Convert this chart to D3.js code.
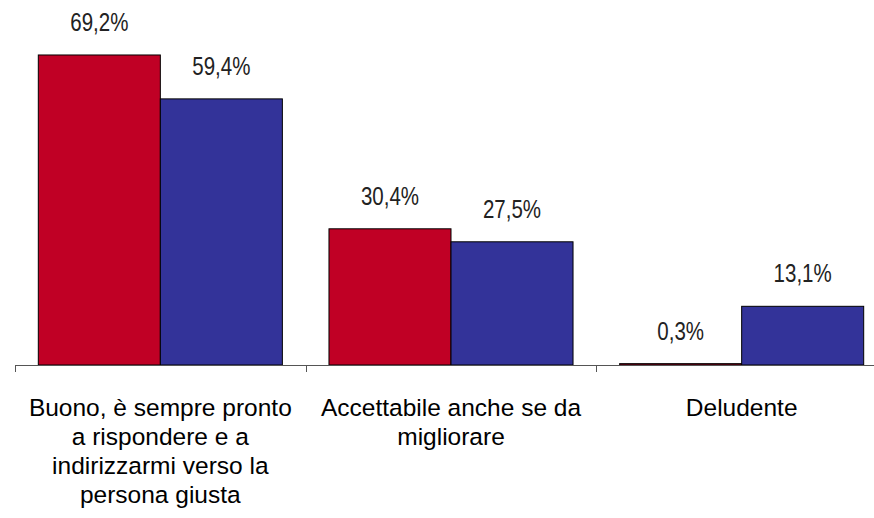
<!DOCTYPE html>
<html>
<head>
<meta charset="utf-8">
<script src="https://cdn.jsdelivr.net/npm/d3@7"></script>
<style>
  html, body { margin: 0; padding: 0; background: #fff; }
  svg { display: block; }
</style>
</head>
<body>
<svg id="chart" width="874" height="518"></svg>
<script>
const categories = [
  "Buono, è sempre pronto a rispondere e a indirizzarmi verso la persona giusta",
  "Accettabile anche se da migliorare",
  "Deludente"
];
const seriesNames = ["Serie A", "Serie B"];
const seriesA = [69.2, 30.4, 0.3];
const seriesB = [59.4, 27.5, 13.1];
const colors = ["#C00025", "#333399"];

const svg = d3.select("#chart");
const baseY = 365;

const x0 = d3.scaleBand().domain(categories).range([15, 887]).paddingInner(0).paddingOuter(0);
const x1 = d3.scaleBand().domain(seriesNames).range([0, x0.bandwidth()]).paddingInner(0).paddingOuter(0.191);
const y = d3.scaleLinear().domain([0, 80]).range([baseY, baseY - 80 * 4.48]);

const rows = categories.map((c, i) => ({
  cat: c,
  vals: [
    { s: seriesNames[0], v: seriesA[i], color: colors[0] },
    { s: seriesNames[1], v: seriesB[i], color: colors[1] }
  ]
}));

const fmt = v => d3.format(".1f")(v).replace(".", ",") + "%";

const g = svg.selectAll("g.cat").data(rows).join("g")
  .attr("class", "cat")
  .attr("transform", d => `translate(${x0(d.cat)},0)`);

g.selectAll("rect").data(d => d.vals).join("rect")
  .attr("x", d => x1(d.s))
  .attr("y", d => y(d.v))
  .attr("width", x1.bandwidth())
  .attr("height", d => baseY - y(d.v))
  .attr("fill", d => d.color)
  .attr("stroke", "#000")
  .attr("stroke-width", 1);

g.selectAll("text.val").data(d => d.vals).join("text")
  .attr("class", "val")
  .attr("transform", d => `translate(${x1(d.s) + x1.bandwidth() / 2},${y(d.v) - 24}) scale(0.82,1)`)
  .attr("text-anchor", "middle")
  .style("font-family", "'Liberation Sans', Arial, sans-serif")
  .style("font-size", "25px")
  .attr("fill", "#222")
  .text(d => fmt(d.v));

// axis
const axis = d3.axisBottom(x0).tickSize(0).tickFormat("");
const ag = svg.append("g").attr("transform", `translate(0,${baseY})`).call(axis);
ag.select(".domain").attr("stroke", "#555").attr("d", `M15,0.5H874`);
const bounds = categories.map(c => x0(c)).concat([x0.range()[1]]);
ag.selectAll("line.bt").data(bounds).join("line")
  .attr("class", "bt")
  .attr("x1", d => Math.round(d) + 0.5).attr("x2", d => Math.round(d) + 0.5)
  .attr("y1", 0).attr("y2", 7)
  .attr("stroke", "#555");

// category labels with wrapping
const labelFont = "'Liberation Sans', Arial, sans-serif";
const fontPx = 24.5;
const maxW = 274;
const lineH = 29;
const ctx = document.createElement("canvas").getContext("2d");
ctx.font = fontPx + "px 'Liberation Sans'";
function wrap(str) {
  const words = str.split(" ");
  const lines = [];
  let cur = "";
  words.forEach(w => {
    const t = cur ? cur + " " + w : w;
    if (ctx.measureText(t).width > maxW && cur) { lines.push(cur); cur = w; }
    else cur = t;
  });
  if (cur) lines.push(cur);
  return lines;
}
categories.forEach(c => {
  const lines = wrap(c);
  const t = svg.append("text")
    .attr("text-anchor", "middle")
    .style("font-family", labelFont)
    .style("font-size", fontPx + "px")
    .attr("fill", "#000");
  lines.forEach((ln, i) => {
    t.append("tspan")
      .attr("x", x0(c) + x0.bandwidth() / 2)
      .attr("y", 416 + i * lineH)
      .text(ln);
  });
});
</script>
</body>
</html>
